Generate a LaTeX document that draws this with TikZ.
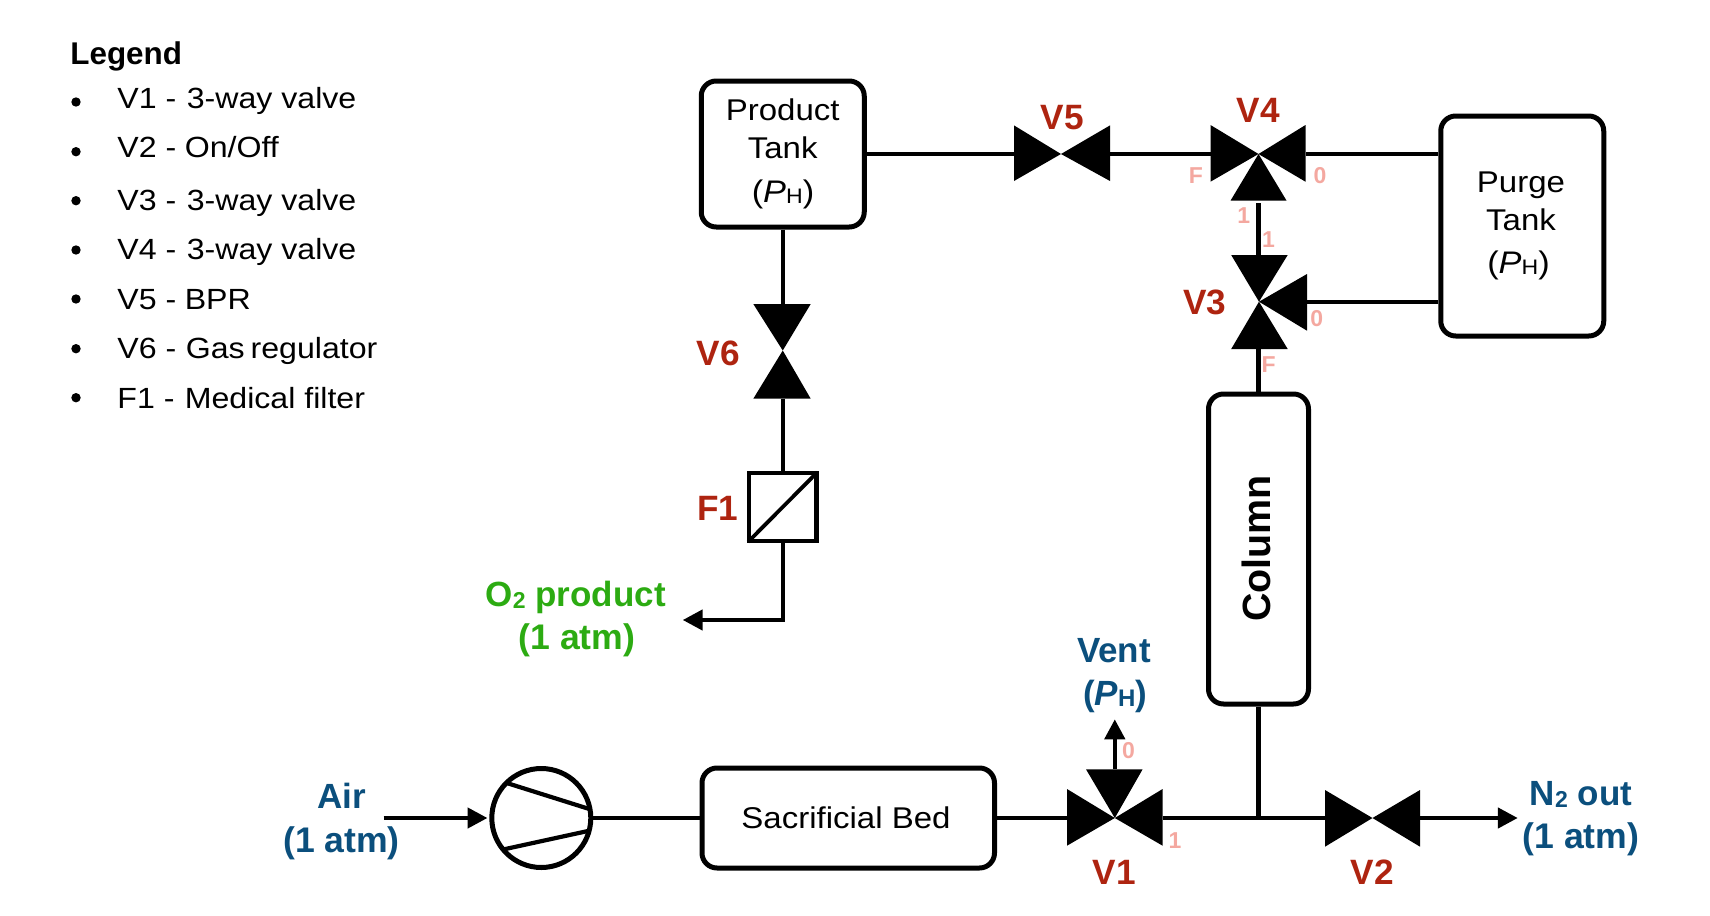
\documentclass[tikz,border=0pt]{standalone}
\usepackage{fontspec}
\setmainfont{Liberation Sans}[FakeStretch=1.1]
\newfontfamily\labfont{Liberation Sans}[FakeStretch=1.0]
\usetikzlibrary{arrows.meta}
\definecolor{vred}{HTML}{AE2410}
\definecolor{fblue}{HTML}{0B4F7D}
\definecolor{pgreen}{HTML}{2CAB12}
\definecolor{port}{HTML}{F4A8A0}
\newcommand{\fsz}[1]{\fontsize{#1}{#1}\selectfont}
\newcommand{\lowtxt}[3]{\raisebox{#2}{\fsz{#1}#3}}
\tikzset{
  x=0.5pt,y=-0.5pt,
  pipe/.style={line width=2.25pt},
  flow/.style={pipe,-{Triangle[length=10pt,width=10pt]}},
  tank/.style={draw,line width=2.5pt,rounded corners=7.5pt,inner sep=0pt,fill=white},
  tri/.style={fill=black},
  txt/.style={inner sep=0pt,anchor=base,font=\fsz{15}},
  legtxt/.style={inner sep=0pt,anchor=base west,font=\fsz{14.6}},
  leghead/.style={inner sep=0pt,anchor=base west,font=\labfont\bfseries\fsz{15.7}},
  vlab/.style={inner sep=0pt,text=vred,font=\labfont\bfseries\fsz{17.6}},
  portlab/.style={inner sep=0pt,text=port,font=\labfont\bfseries\fsz{11.5}},
  bluelab/.style={inner sep=0pt,anchor=base,text=fblue,font=\labfont\bfseries\fsz{17.5}},
  greenlab/.style={inner sep=0pt,anchor=base,text=pgreen,font=\labfont\bfseries\fsz{17.5}},
}
\begin{document}
\begin{tikzpicture}
\useasboundingbox (0,0) rectangle (1710,916);
% legend
\node[leghead] (lh) at (70,64.3) {Legend};
\foreach \by in {102,151.7,200.7,250,299,348.7,397.7} \fill (76,\by) circle[radius=2.35pt];
\newcommand{\lrow}[2]{\makebox[34.7pt][l]{#1}#2}
\node[legtxt] (l1) at (117,108.3) {\lrow{V1 -}{3-way valve}};
\node[legtxt] (l2) at (117,157.3) {\lrow{V2 -}{\hspace{-1pt}On/Off}};
\node[legtxt] (l3) at (117,210) {\lrow{V3 -}{3-way valve}};
\node[legtxt] (l4) at (117,259) {\lrow{V4 -}{3-way valve}};
\node[legtxt] (l5) at (117,309) {\lrow{V5 -}{\hspace{-1pt}BPR}};
\node[legtxt] (l6) at (117,358) {\lrow{V6 -}{\hspace{-0.5pt}Gas\hspace{-1.5pt} regulator}};
\node[legtxt] (l7) at (117,408) {\lrow{F1 -}{\hspace{-1pt}Medical filter}};
% equipment
\node[tank,minimum width=81.5pt,minimum height=73pt] (prod) at (782.75,154) {};
\node[tank,minimum width=81.5pt,minimum height=110pt] (purge) at (1522.25,226) {};
\node[tank,minimum width=50pt,minimum height=155pt] (col) at (1258.5,549) {};
\node[tank,minimum width=146.25pt,minimum height=50pt] (bed) at (848.25,818) {};
\node[draw,circle,line width=2.5pt,inner sep=0pt,minimum size=49.5pt] (comp) at (541.3,818) {};
\node[draw,line width=2.25pt,inner sep=0pt,minimum width=33.75pt,minimum height=34pt] (filt) at (782.75,507) {};
\draw[line width=1.9pt,shorten <=1pt,shorten >=1pt] (filt.south west) -- (filt.north east);
\draw[line width=2.1pt] (507.7,783.3) -- (589.3,809);
\draw[line width=2.1pt] (504,849.3) -- (589.3,830.7);
% valve centres and ports
\coordinate (v1) at (1114.8,818);
\coordinate (v2) at (1372.5,818);
\coordinate (v3) at (1259,301.7);
\coordinate (v4) at (1258.5,154);
\coordinate (v5) at (1061,154);
\coordinate (v6) at (782.75,350.5);
\coordinate (v1L) at (1067,818); \coordinate (v1R) at (1162.6,818); \coordinate (v1T) at (1114.8,769.3);
\coordinate (v2L) at (1325,818); \coordinate (v2R) at (1420,818);
\coordinate (v3T) at (1258.5,255); \coordinate (v3R) at (1307,302); \coordinate (v3B) at (1258.5,349);
\coordinate (v4L) at (1210.5,154); \coordinate (v4R) at (1305.5,154); \coordinate (v4B) at (1258.5,202.5);
\coordinate (v5L) at (1014,154); \coordinate (v5R) at (1110,154);
\coordinate (v6T) at (782.75,304); \coordinate (v6B) at (782.75,398.7);
\coordinate (airin) at (383.7,818);
\coordinate (airtip) at (487.5,818);
\coordinate (n2out) at (1517.8,818);
\coordinate (vent) at (1114.8,719.3);
\coordinate (o2corner) at (782.75,620);
\coordinate (o2out) at (682.7,620);
\coordinate (junc) at (1258.5,818);
% valves
\fill[tri] (v1) -- (1067,789) -- (1067,845.7) -- cycle;
\fill[tri] (v1) -- (1162.6,789) -- (1162.6,845.7) -- cycle;
\fill[tri] (v1) -- (1086,769.3) -- (1142.6,769.3) -- cycle;
\fill[tri] (v2) -- (1325,790) -- (1325,846.7) -- cycle;
\fill[tri] (v2) -- (1420,790) -- (1420,846.7) -- cycle;
\fill[tri] (v3) -- (1231.2,255) -- (1287.7,255) -- cycle;
\fill[tri] (v3) -- (1307,274) -- (1307,330.7) -- cycle;
\fill[tri] (v3) -- (1231.2,349) -- (1287.7,349) -- cycle;
\fill[tri] (v4) -- (1210.5,125) -- (1210.5,181.7) -- cycle;
\fill[tri] (v4) -- (1305.5,125) -- (1305.5,181.7) -- cycle;
\fill[tri] (v4) -- (1230.5,200.7) -- (1286.6,200.7) -- cycle;
\fill[tri] (v5) -- (1014,125.4) -- (1014,181) -- cycle;
\fill[tri] (v5) -- (1110,125.4) -- (1110,181) -- cycle;
\fill[tri] (v6) -- (753.3,304) -- (810.7,304) -- cycle;
\fill[tri] (v6) -- (753.3,398.7) -- (810.7,398.7) -- cycle;
% connectors
\draw[flow] (airin) -- (airtip);
\draw[pipe] (comp.east) -- (bed.west);
\draw[pipe] (bed.east) -- (v1L);
\draw[pipe] (v1R) -- (v2L);
\draw[flow] (v2R) -- (n2out);
\draw[flow] (v1T) -- (vent);
\draw[pipe] (col.south) -- (junc);
\draw[pipe] (col.north) -- (v3B);
\draw[pipe] (v3T) -- (v4B);
\draw[pipe] (purge.west |- v4R) -- (v4R);
\draw[pipe] (purge.west |- v3R) -- (v3R);
\draw[pipe] (v4L) -- (v5R);
\draw[pipe] (v5L) -- (prod.east);
\draw[pipe] (prod.south) -- (v6T);
\draw[pipe] (v6B) -- (filt.north);
\draw[flow] (filt.south) -- (o2corner) -- (o2out);
% box texts
\node[txt] (pt1) at (782.7,120) {Product};
\node[txt] (pt2) at (782.7,158.8) {Tank};
\node[txt] (pt3) at (783,202) {\fsz{15.6}(\textit{P}\lowtxt{10.5}{-0.5pt}{H})};
\node[txt] (gt1) at (1521,192) {Purge};
\node[txt] (gt2) at (1521,230.7) {Tank};
\node[txt] (gt3) at (1518.5,273) {\fsz{15.6}(\textit{P}\lowtxt{10.5}{-0.5pt}{H})};
\node[txt] (bt) at (846,828.3) {Sacrificial Bed};
\node[inner sep=0pt,rotate=90,font=\labfont\bfseries\fsz{19.7}] (ct) at (1256,548.5) {Column};
% valve labels
\node[vlab] (lv1) at (1114.5,872) {V1};
\node[vlab] (lv2) at (1372.5,872) {V2};
\node[vlab] (lv3) at (1205,302) {V3};
\node[vlab] (lv4) at (1258.5,110) {V4};
\node[vlab] (lv5) at (1062.5,118) {V5};
\node[vlab] (lv6) at (718.5,353) {V6};
\node[vlab] (lf1) at (718,508.5) {F1};
% port labels
\node[portlab] (p1) at (1195.8,175.7) {F};
\node[portlab] (p2) at (1320,175.7) {0};
\node[portlab] (p3) at (1243.8,215.7) {1};
\node[portlab] (p4) at (1268.4,240) {1};
\node[portlab] (p5) at (1316.8,319) {0};
\node[portlab] (p6) at (1268.7,365) {F};
\node[portlab] (p7) at (1128.5,750.7) {0};
\node[portlab] (p8) at (1175,841) {1};
% stream labels
\node[bluelab] (a1) at (341.8,808.3) {Air};
\node[bluelab,font=\labfont\bfseries\fsz{17.8}] (a2) at (341.5,852.5) {(1 atm)};
\node[bluelab] (ve1) at (1114,662.7) {Vent};
\node[bluelab] (ve2) at (1115.2,705) {(\textit{P}\lowtxt{12}{-0.5pt}{H})};
\node[bluelab] (n1) at (1581,805) {N\lowtxt{11.5}{-1pt}{2} out};
\node[bluelab,font=\labfont\bfseries\fsz{17.8}] (n2) at (1581,848.5) {(1 atm)};
\node[greenlab] (o1) at (575.7,606) {O\lowtxt{11.5}{-1pt}{2} product};
\node[greenlab,font=\labfont\bfseries\fsz{17.8}] (o2) at (577,649.5) {(1 atm)};
\end{tikzpicture}
\end{document}
